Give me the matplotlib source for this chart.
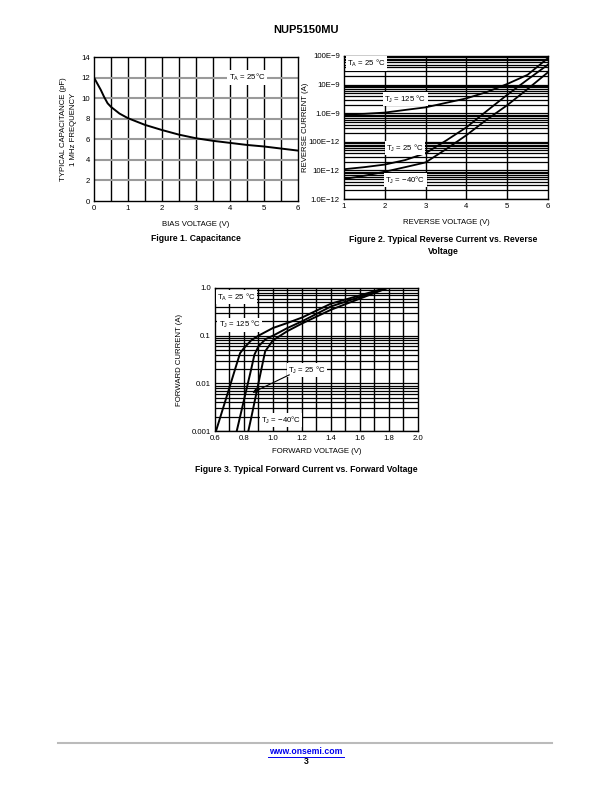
import matplotlib
matplotlib.use("Agg")
import matplotlib.pyplot as plt
import numpy as np

plt.rcParams['font.family'] = ['Liberation Sans', 'DejaVu Sans']

# ---------------- data ----------------
bias_v = [0, 0.1, 0.2, 0.3, 0.4, 0.5, 0.75, 1.0, 1.5, 2.0, 2.5, 3.0, 3.5, 4.0, 4.5, 5.0, 5.5, 6.0]
cap_pf = [12.0, 11.4, 10.8, 10.1, 9.5, 9.15, 8.5, 8.05, 7.4, 6.9, 6.45, 6.1, 5.85, 5.65, 5.45, 5.3, 5.1, 4.9]

rev_v = [1, 1.5, 2, 2.5, 3, 3.5, 4, 4.5, 5, 5.5, 6]
ir_125 = [0.9e-9, 0.95e-9, 1.05e-9, 1.3e-9, 1.6e-9, 2.3e-9, 3.3e-9, 5.5e-9, 10.5e-9, 22e-9, 85e-9]
ir_25 = [11e-12, 13e-12, 16e-12, 23e-12, 40e-12, 110e-12, 320e-12, 1.2e-9, 4.4e-9, 15e-9, 50e-9]
ir_m40 = [5e-12, 6.5e-12, 9e-12, 13e-12, 19e-12, 55e-12, 170e-12, 600e-12, 1.9e-9, 7e-9, 27e-9]
rev_ticks = [1e-12, 1e-11, 1e-10, 1e-9, 1e-8, 1e-7]
rev_ticklabels = ["1.0E\u221212", "10E\u221212", "100E\u221212", "1.0E\u22129", "10E\u22129", "100E\u22129"]

vf_125 = [0.607, 0.65, 0.70, 0.75, 0.773, 0.80, 0.85, 0.90, 1.0, 1.1, 1.2, 1.4, 1.6, 1.775]
if_125 = [0.001, 0.00265, 0.0082, 0.0257, 0.043, 0.055, 0.08, 0.10, 0.145, 0.185, 0.24, 0.47, 0.7, 1.0]
vf_25 = [0.75, 0.80, 0.85, 0.872, 0.90, 0.95, 1.0, 1.1, 1.2, 1.4, 1.6, 1.786]
if_25 = [0.001, 0.0045, 0.020, 0.040, 0.06, 0.085, 0.10, 0.145, 0.20, 0.41, 0.65, 1.0]
vf_m40 = [0.83, 0.85, 0.90, 0.946, 1.0, 1.1, 1.2, 1.4, 1.6, 1.79]
if_m40 = [0.001, 0.0019, 0.0102, 0.047, 0.08, 0.125, 0.18, 0.35, 0.6, 1.0]
fwd_ticks = [0.001, 0.01, 0.1, 1.0]
fwd_ticklabels = ["0.001", "0.01", "0.1", "1.0"]

# ---------------- figure ----------------
W, H = 612, 792
fig = plt.figure(figsize=(W / 100, H / 100), dpi=100)

def ax_px(l, t, r, b):
    return fig.add_axes([l / W, 1 - b / H, (r - l) / W, (b - t) / H])

FS = 5.6
box = dict(facecolor='white', edgecolor='none', pad=1.0)

def style(ax):
    ax.tick_params(length=0, labelsize=FS, pad=3)
    for s in ax.spines.values():
        s.set_linewidth(1.0)
        s.set_color('black')

# Title
fig.text(306 / W, 1 - 30 / H, "NUP5150MU", ha='center', va='center', fontsize=8, fontweight='bold')

# ---- Figure 1 ----
ax1 = ax_px(94, 57, 298, 201)
ax1.set_xlim(0, 6)
ax1.set_ylim(0, 14)
for x in np.arange(0.5, 6, 0.5):
    ax1.axvline(x, color='black', lw=1.0, zorder=1)
for y in range(2, 14, 2):
    ax1.axhline(y, color='#9a9a9a', lw=1.5, zorder=1)
ax1.plot(bias_v, cap_pf, color='black', lw=1.4, zorder=3)
ax1.set_xticks(range(0, 7))
ax1.set_yticks(range(0, 15, 2))
style(ax1)
ax1.text(4.5, 12, "T$_\\mathregular{A}$ = 25°C", fontsize=FS, ha='center', va='center', bbox=box, zorder=4)
ax1.set_xlabel("BIAS VOLTAGE (V)", fontsize=FS, labelpad=6)
ax1.set_ylabel("TYPICAL CAPACITANCE (pF)\n1 MHz FREQUENCY", fontsize=FS, labelpad=3, linespacing=1.5)
fig.text(196 / W, 1 - 239 / H, "Figure 1. Capacitance", ha='center', va='center', fontsize=6.2, fontweight='bold')

# ---- Figure 2 ----
ax2 = ax_px(344, 56, 548, 199)
ax2.set_yscale('log')
ax2.set_xlim(1, 6)
ax2.set_ylim(1e-12, 1e-7)
for dec in [1e-12, 1e-11, 1e-10, 1e-9, 1e-8]:
    for m in range(1, 10):
        ax2.axhline(dec * m, color='black', lw=0.9, zorder=1)
for x in range(2, 6):
    ax2.axvline(x, color='black', lw=1.0, zorder=1)
for ydata in (ir_125, ir_25, ir_m40):
    ax2.plot(rev_v, ydata, color='black', lw=1.3, zorder=3)
ax2.set_xticks(range(1, 7))
ax2.set_yticks(rev_ticks)
ax2.set_yticklabels(rev_ticklabels)
ax2.yaxis.set_minor_locator(matplotlib.ticker.NullLocator())
style(ax2)
ax2.text(1.08, 55e-9, "T$_\\mathregular{A}$ = 25 °C", fontsize=FS, ha='left', va='center', bbox=box, zorder=4)
ax2.text(2.5, 3.2e-9, "T$_\\mathregular{J}$ = 125 °C", fontsize=FS, ha='center', va='center', bbox=box, zorder=4)
ax2.text(2.5, 60e-12, "T$_\\mathregular{J}$ = 25 °C", fontsize=FS, ha='center', va='center', bbox=box, zorder=4)
ax2.text(2.5, 4.6e-12, "T$_\\mathregular{J}$ = \u221240°C", fontsize=FS, ha='center', va='center', bbox=box, zorder=4)
ax2.set_xlabel("REVERSE VOLTAGE (V)", fontsize=FS, labelpad=6)
ax2.set_ylabel("REVERSE CURRENT (A)", fontsize=FS, labelpad=0)
fig.text(443 / W, 1 - 240 / H, "Figure 2. Typical Reverse Current vs. Reverse", ha='center', va='center', fontsize=6.2, fontweight='bold')
fig.text(443 / W, 1 - 251 / H, "Voltage", ha='center', va='center', fontsize=6.2, fontweight='bold')

# ---- Figure 3 ----
ax3 = ax_px(215, 288, 418, 431)
ax3.set_yscale('log')
ax3.set_xlim(0.6, 2.0)
ax3.set_ylim(0.001, 1.0)
for dec in [0.001, 0.01, 0.1]:
    for m in range(1, 10):
        ax3.axhline(dec * m, color='black', lw=0.9, zorder=1)
for x in np.arange(0.7, 2.0, 0.1):
    ax3.axvline(x, color='black', lw=1.0, zorder=1)
ax3.plot(vf_125, if_125, color='black', lw=1.4, zorder=3)
ax3.plot(vf_25, if_25, color='black', lw=1.4, zorder=3)
ax3.plot(vf_m40, if_m40, color='black', lw=1.4, zorder=3)
ax3.set_xticks(np.arange(0.6, 2.01, 0.2))
ax3.set_xticklabels([f"{v:.1f}" for v in np.arange(0.6, 2.01, 0.2)])
ax3.set_yticks(fwd_ticks)
ax3.set_yticklabels(fwd_ticklabels)
ax3.yaxis.set_minor_locator(matplotlib.ticker.NullLocator())
style(ax3)
ax3.text(0.615, 0.64, "T$_\\mathregular{A}$ = 25 °C", fontsize=FS, ha='left', va='center', bbox=box, zorder=4)
ax3.text(0.77, 0.17, "T$_\\mathregular{J}$ = 125 °C", fontsize=FS, ha='center', va='center', bbox=box, zorder=4)
ax3.text(1.235, 0.019, "T$_\\mathregular{J}$ = 25 °C", fontsize=FS, ha='center', va='center', bbox=box, zorder=4)
ax3.text(1.055, 0.0017, "T$_\\mathregular{J}$ = \u221240°C", fontsize=FS, ha='center', va='center', bbox=box, zorder=4)
ax3.annotate("", xy=(0.84, 0.006), xytext=(1.13, 0.016),
             arrowprops=dict(arrowstyle='-|>', color='black', lw=0.8, mutation_scale=6), zorder=5)
ax3.set_xlabel("FORWARD VOLTAGE (V)", fontsize=FS, labelpad=4)
ax3.set_ylabel("FORWARD CURRENT (A)", fontsize=FS, labelpad=6)
fig.text(306 / W, 1 - 470 / H, "Figure 3. Typical Forward Current vs. Forward Voltage", ha='center', va='center', fontsize=6.2, fontweight='bold')

# ---- footer ----
fig.add_artist(plt.Line2D([58 / W, 552 / W], [1 - 743 / H, 1 - 743 / H], color='#bbbbbb', lw=1.5))
fig.text(306 / W, 1 - 752 / H, "www.onsemi.com", ha='center', va='center', fontsize=6.2,
         fontweight='bold', color='#0000ee')
fig.add_artist(plt.Line2D([268 / W, 344 / W], [1 - 756.5 / H, 1 - 756.5 / H], color='#0000ee', lw=0.7))
fig.text(306 / W, 1 - 762 / H, "3", ha='center', va='center', fontsize=6.2, fontweight='bold')

fig.savefig("out.png", dpi=100)
